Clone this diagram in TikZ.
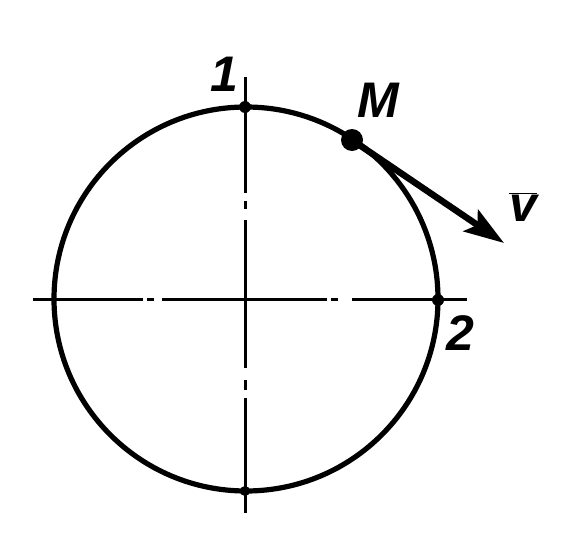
\documentclass[tikz,border=0pt]{standalone}
\usepackage{fontspec}
\setmainfont{Liberation Sans}
\usetikzlibrary{arrows.meta}
\tikzset{
  axis/.style={line width=3pt, line cap=butt},
  rim/.style={line width=5.2pt},
  lab/.style={font=\fontsize{50}{50}\selectfont\itshape\bfseries, inner sep=0pt},
  vec/.style={line width=6.5pt, -{Stealth[length=40pt, width=26pt, inset=8pt]}},
}
\begin{document}
\begin{tikzpicture}[x=1pt,y=-1pt]
\useasboundingbox (0,0) rectangle (576,549);
\coordinate (O) at (246,299);
% horizontal centre line (dash-dot)
\draw[axis] (33,299) -- (143,299);
\draw[axis] (147,299) -- (154,299);
\draw[axis] (162,299) -- (327,299);
\draw[axis] (331,299) -- (338,299);
\draw[axis] (352,299) -- (467,299);
% vertical centre line (dash-dot)
\draw[axis] (245,77) -- (245,193);
\draw[axis] (245,201) -- (245,209);
\draw[axis] (245,220) -- (245,368);
\draw[axis] (245,380) -- (245,390);
\draw[axis] (245,398) -- (245,513);
% circle
\draw[rim] (O) circle[radius=192];
% marked points
\coordinate (P1) at (245,107);
\coordinate (P2) at (438,300);
\coordinate (P3) at (245,491);
\fill (P1) circle[radius=6];
\fill (P2) circle[radius=6];
\fill (P3) circle[radius=5];
% point M and velocity
\coordinate (M) at (352,140);
\coordinate (V) at (504,243);
\draw[vec] (M) -- (V);
\fill (M) circle[radius=11];
% labels
\node[lab] (l1) at (224,74) {1};
\node[lab] (l2) at (460,333) {2};
\node[lab] (lM) at (378,100) {M};
\node[lab] (lv) at (523,207) {$\overline{\mbox{v}}$};
\end{tikzpicture}
\end{document}
